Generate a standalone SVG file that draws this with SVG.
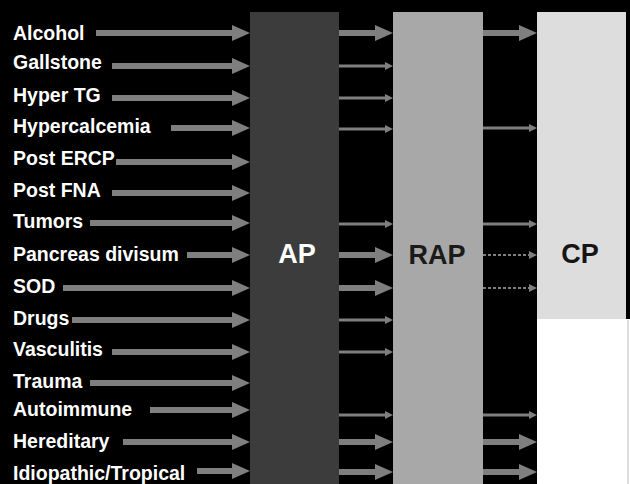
<svg xmlns="http://www.w3.org/2000/svg" width="630" height="484" viewBox="0 0 630 484">
<style>
.lbl{font-family:"Liberation Sans",Arial,sans-serif;font-weight:bold;font-size:19.5px;fill:#ffffff}
.big{font-family:"Liberation Sans",Arial,sans-serif;font-weight:bold;font-size:27px;text-anchor:middle}
.tk{stroke:#7f7f7f;stroke-width:6;fill:none;marker-end:url(#hT)}
.tn{stroke:#7f7f7f;stroke-width:3;fill:none;marker-end:url(#hS)}
.dt{stroke:#7f7f7f;stroke-width:2;stroke-dasharray:3 2;fill:none;marker-end:url(#hS)}
</style>
<defs>
<marker id="hT" markerUnits="userSpaceOnUse" markerWidth="18" markerHeight="16" refX="0" refY="8" orient="auto" viewBox="0 0 18 16">
<path d="M0,0 L18,8 L0,16 z" fill="#7f7f7f"/>
</marker>
<marker id="hS" markerUnits="userSpaceOnUse" markerWidth="8" markerHeight="8" refX="0" refY="4" orient="auto" viewBox="0 0 8 8">
<path d="M0,0 L8,4 L0,8 z" fill="#7f7f7f"/>
</marker>
</defs>
<rect x="0" y="0" width="630" height="484" fill="#000000"/>
<rect x="537" y="319" width="93" height="165" fill="#ffffff"/>
<line x1="628" y1="320" x2="628" y2="484" stroke="#bdbdbd" stroke-width="1"/>

<g id="AP">
<rect x="250" y="12" width="89" height="472" fill="#3c3c3c"/>
<text class="big" x="297" y="263" fill="#ffffff">AP</text>
</g>
<g id="RAP">
<rect x="393" y="12" width="90" height="472" fill="#a8a8a8"/>
<text class="big" x="437" y="264" fill="#1a1a1a">RAP</text>
</g>
<g id="CP">
<rect x="537" y="12" width="89" height="307" fill="#dddddd"/>
<text class="big" x="580" y="263" fill="#151515">CP</text>
</g>

<g id="causes">
<g id="alcohol"><text class="lbl" x="13" y="40">Alcohol</text></g>
<g id="gallstone"><text class="lbl" x="13" y="69">Gallstone</text></g>
<g id="hypertg"><text class="lbl" x="13" y="102">Hyper TG</text></g>
<g id="hypercalcemia"><text class="lbl" x="13" y="133">Hypercalcemia</text></g>
<g id="postercp"><text class="lbl" x="13" y="165">Post ERCP</text></g>
<g id="postfna"><text class="lbl" x="13" y="197">Post FNA</text></g>
<g id="tumors"><text class="lbl" x="13" y="228">Tumors</text></g>
<g id="pancreasdivisum"><text class="lbl" x="13" y="261">Pancreas divisum</text></g>
<g id="sod"><text class="lbl" x="13" y="293">SOD</text></g>
<g id="drugs"><text class="lbl" x="13" y="325">Drugs</text></g>
<g id="vasculitis"><text class="lbl" x="13" y="356">Vasculitis</text></g>
<g id="trauma"><text class="lbl" x="13" y="388">Trauma</text></g>
<g id="autoimmune"><text class="lbl" x="13" y="416">Autoimmune</text></g>
<g id="hereditary"><text class="lbl" x="13" y="448">Hereditary</text></g>
<g id="idiopathic"><text class="lbl" x="13" y="480">Idiopathic/Tropical</text></g>
</g>

<g id="connectors">
<!-- causes to AP -->
<line class="tk" x1="96" y1="33" x2="232" y2="33"/>
<line class="tk" x1="112" y1="66" x2="232" y2="66"/>
<line class="tk" x1="112" y1="98" x2="232" y2="98"/>
<line class="tk" x1="171" y1="128" x2="232" y2="128"/>
<line class="tk" x1="116" y1="162" x2="232" y2="162"/>
<line class="tk" x1="112" y1="193" x2="232" y2="193"/>
<line class="tk" x1="90" y1="223" x2="232" y2="223"/>
<line class="tk" x1="187" y1="255" x2="232" y2="255"/>
<line class="tk" x1="63" y1="288" x2="232" y2="288"/>
<line class="tk" x1="72" y1="320" x2="232" y2="320"/>
<line class="tk" x1="112" y1="352" x2="232" y2="352"/>
<line class="tk" x1="90" y1="383" x2="232" y2="383"/>
<line class="tk" x1="150" y1="410" x2="232" y2="410"/>
<line class="tk" x1="123" y1="442" x2="232" y2="442"/>
<line class="tk" x1="197" y1="471" x2="232" y2="471"/>
<!-- AP to RAP -->
<line class="tk" x1="339" y1="33" x2="375" y2="33"/>
<line class="tn" x1="339" y1="66" x2="385" y2="66"/>
<line class="tn" x1="339" y1="98" x2="385" y2="98"/>
<line class="tn" x1="339" y1="129" x2="385" y2="129"/>
<line class="tn" x1="339" y1="224" x2="385" y2="224"/>
<line class="tk" x1="339" y1="255" x2="375" y2="255"/>
<line class="tk" x1="339" y1="288" x2="375" y2="288"/>
<line class="tn" x1="339" y1="320" x2="385" y2="320"/>
<line class="tn" x1="339" y1="352" x2="385" y2="352"/>
<line class="tn" x1="339" y1="415" x2="385" y2="415"/>
<line class="tk" x1="339" y1="442" x2="375" y2="442"/>
<line class="tk" x1="339" y1="472" x2="375" y2="472"/>
<!-- RAP to CP -->
<line class="tk" x1="483" y1="33" x2="519" y2="33"/>
<line class="tn" x1="483" y1="128" x2="529" y2="128"/>
<line class="tn" x1="483" y1="224" x2="529" y2="224"/>
<line class="dt" x1="483" y1="255" x2="529" y2="255"/>
<line class="dt" x1="483" y1="288" x2="529" y2="288"/>
<line class="tn" x1="483" y1="415" x2="529" y2="415"/>
<line class="tk" x1="483" y1="442" x2="519" y2="442"/>
<line class="tk" x1="483" y1="472" x2="519" y2="472"/>
</g>
</svg>
